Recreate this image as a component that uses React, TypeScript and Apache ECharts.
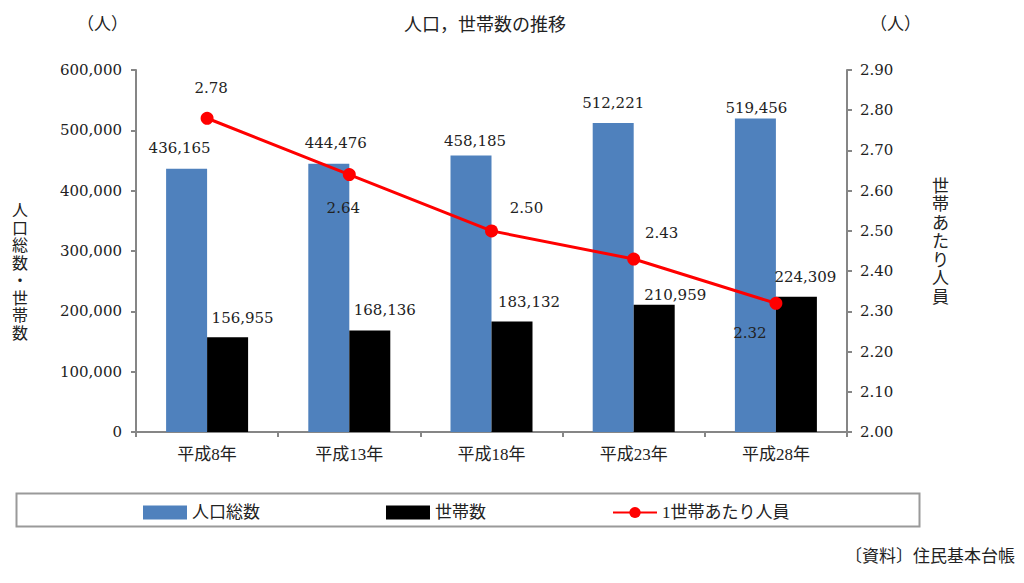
import React, { useEffect, useRef } from "react";
import * as echarts from "echarts";

const categories = ["平成8年", "平成13年", "平成18年", "平成23年", "平成28年"];
const population = [436165, 444476, 458185, 512221, 519456];
const households = [156955, 168136, 183132, 210959, 224309];
const perHousehold = [2.78, 2.64, 2.5, 2.43, 2.32];
const leftTicks = { min: 0, max: 600000, interval: 100000 };
const rightTicks = { min: 2.0, max: 2.9, interval: 0.1 };

// label placement (style, not data)
const popLabelOffsets = [[-7, -8], [7, -8], [4, -2], [0, -7], [1, 2]];
const hhLabelOffsets = [[15, -7], [15, -8], [17, -7], [21, 3], [9, -7]];
const lineLabelOffsets = [[4, -30], [-6, 33], [35, -23], [28, -26], [-26, 30]];

const FONT = "'DejaVu Serif', 'Noto Sans CJK JP', serif";
const CJK = "'Liberation Serif', 'Noto Sans CJK JP', serif";
const TEXT = "#222";
const NUM_SIZE = 15;

export default function App() {
  const ref = useRef<HTMLDivElement>(null);
  useEffect(() => {
    if (!ref.current) return;
    const chart = echarts.init(ref.current, undefined, { renderer: "svg" });
    const numFmt = (v: number) => v.toLocaleString("en-US");
    const numLabel = { fontFamily: FONT, fontSize: NUM_SIZE, color: TEXT };
    chart.setOption({
      animation: false,
      backgroundColor: "#fff",
      textStyle: { fontFamily: CJK, color: TEXT },
      grid: { left: 136, right: 177, top: 70, bottom: 151 },
      legend: {
        left: 138,
        top: 499,
        itemGap: 126,
        itemWidth: 44,
        itemHeight: 14,
        textStyle: { fontFamily: CJK, fontSize: 17, color: TEXT },
        data: [
          { name: "人口総数", icon: "rect" },
          { name: "世帯数", icon: "rect" },
          { name: "1世帯あたり人員" },
        ],
      },
      graphic: [
        {
          type: "rect",
          left: 14,
          top: 491,
          shape: { width: 903, height: 33 },
          style: { fill: "none", stroke: "#9a9a9a", lineWidth: 2 },
          z: -1,
        },
        {
          type: "text",
          x: 485,
          y: 16,
          style: { text: "人口，世帯数の推移", font: `18px ${CJK}`, fill: TEXT, align: "center" },
        },
        {
          type: "text",
          x: 77,
          y: 16,
          style: { text: "（人）", font: `17px ${CJK}`, fill: TEXT },
        },
        {
          type: "text",
          x: 870,
          y: 16,
          style: { text: "（人）", font: `17px ${CJK}`, fill: TEXT },
        },
        {
          type: "text",
          x: 12,
          y: 202,
          style: {
            text: "人口総数・世帯数".split("").join("\n"),
            font: `16px ${CJK}`,
            lineHeight: 17.5,
            fill: TEXT,
          },
        },
        {
          type: "text",
          x: 932,
          y: 177,
          style: {
            text: "世帯あたり人員".split("").join("\n"),
            font: `17px ${CJK}`,
            lineHeight: 18.5,
            fill: TEXT,
          },
        },
        {
          type: "text",
          right: 9,
          top: 548,
          style: { text: "〔資料〕住民基本台帳", font: `17px ${CJK}`, fill: TEXT },
        },
      ],
      xAxis: {
        type: "category",
        data: categories,
        axisLine: { lineStyle: { color: "#868686", width: 2 } },
        axisTick: { show: true, length: 5, lineStyle: { color: "#868686", width: 2 } },
        axisLabel: { fontFamily: CJK, fontSize: 17, color: TEXT, margin: 14 },
      },
      yAxis: [
        {
          type: "value",
          min: leftTicks.min,
          max: leftTicks.max,
          interval: leftTicks.interval,
          splitLine: { show: false },
          axisLine: { show: true, lineStyle: { color: "#868686", width: 2 } },
          axisTick: { show: true, length: 5, lineStyle: { color: "#868686", width: 2 } },
          axisLabel: { ...numLabel, margin: 14, formatter: (v: number) => numFmt(v) },
        },
        {
          type: "value",
          min: rightTicks.min,
          max: rightTicks.max,
          interval: rightTicks.interval,
          splitLine: { show: false },
          axisLine: { show: true, lineStyle: { color: "#868686", width: 2 } },
          axisTick: { show: true, length: 5, lineStyle: { color: "#868686", width: 2 } },
          axisLabel: { ...numLabel, margin: 13, formatter: (v: number) => v.toFixed(2) },
        },
      ],
      series: [
        {
          name: "人口総数",
          type: "bar",
          barWidth: 41,
          barGap: "0%",
          itemStyle: { color: "#4f81bd" },
          data: population.map((v, i) => ({
            value: v,
            label: {
              show: true,
              position: "top",
              distance: 5,
              offset: popLabelOffsets[i],
              formatter: numFmt(v),
              ...numLabel,
            },
          })),
        },
        {
          name: "世帯数",
          type: "bar",
          barWidth: 41,
          barGap: "0%",
          itemStyle: { color: "#000000" },
          data: households.map((v, i) => ({
            value: v,
            label: {
              show: true,
              position: "top",
              distance: 5,
              offset: hhLabelOffsets[i],
              formatter: numFmt(v),
              ...numLabel,
            },
          })),
        },
        {
          name: "1世帯あたり人員",
          type: "line",
          yAxisIndex: 1,
          symbol: "circle",
          symbolSize: 13,
          lineStyle: { color: "#ff0000", width: 3 },
          itemStyle: { color: "#ff0000" },
          z: 5,
          data: perHousehold.map((v, i) => ({
            value: v,
            label: {
              show: true,
              position: "inside",
              offset: lineLabelOffsets[i],
              formatter: v.toFixed(2),
              ...numLabel,
            },
          })),
        },
      ],
    });
    return () => chart.dispose();
  }, []);
  return (
    <div
      ref={ref}
      style={{ position: "absolute", left: 0, top: 0, width: 1024, height: 583 }}
    />
  );
}
